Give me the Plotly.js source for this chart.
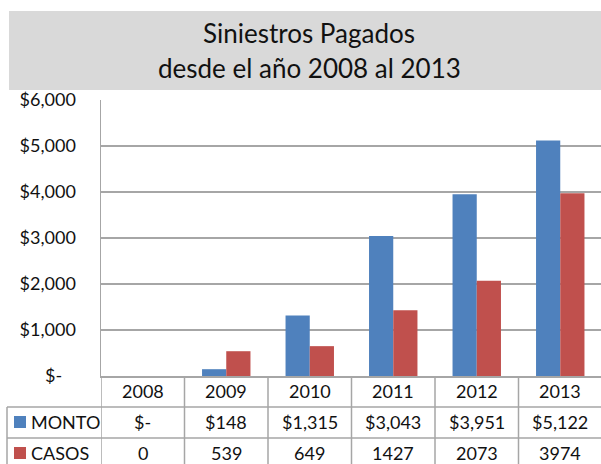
<!DOCTYPE html>
<html>
<head>
<meta charset="utf-8">
<script src="https://cdn.plot.ly/plotly-3.0.1.min.js"></script>
<style>
  html, body { margin: 0; padding: 0; overflow: hidden; background: #fff; }
  #chart { width: 610px; height: 464px; }
</style>
</head>
<body>
<div id="chart"></div>
<script>
// Siniestros pagados 2008-2013 (MONTO y CASOS)
const YEARS = ['2008', '2009', '2010', '2011', '2012', '2013'];
const MONTO = [0, 148, 1315, 3043, 3951, 5122];
const CASOS = [0, 539, 649, 1427, 2073, 3974];
const Y_TICKS = [0, 1000, 2000, 3000, 4000, 5000, 6000];
const Y_TICK_TEXT = ['$-\u00a0\u00a0\u00a0', '$1,000', '$2,000', '$3,000', '$4,000', '$5,000', '$6,000'];
const SERIES_NAMES = ['MONTO', 'CASOS'];
const SERIES_COLORS = ['#4f81bd', '#c0504d'];

const FONT = 'Lato, "Open Sans", sans-serif';
const TXT = '#111111';
const LINE = '#a6a6a6';

// plot box in pixels
const W = 610, H = 464;
const M = { l: 101, r: 8, t: 100, b: 88 };
const plotW = W - M.l - M.r;
const plotH = H - M.t - M.b;
// pixel -> paper helpers
const px = p => (p - M.l) / plotW;
const py = p => (H - M.b - p) / plotH;

function fmtMoney(v) {
  return v === 0 ? '$-' : '$' + v.toLocaleString('en-US');
}

const traces = [
  {
    x: YEARS, y: MONTO, type: 'bar', name: SERIES_NAMES[0],
    marker: { color: SERIES_COLORS[0] }, hoverinfo: 'none'
  },
  {
    x: YEARS, y: CASOS, type: 'bar', name: SERIES_NAMES[1],
    marker: { color: SERIES_COLORS[1] }, hoverinfo: 'none'
  }
];

const shapes = [];
const annotations = [];

// title box
shapes.push({
  type: 'rect', xref: 'paper', yref: 'paper',
  x0: px(9), x1: px(W + 5), y0: py(90), y1: py(11),
  fillcolor: '#d9d9d9', line: { width: 0 }, layer: 'below'
});
annotations.push({
  xref: 'paper', yref: 'paper', x: px(309), y: py(33.5), xanchor: 'center', yanchor: 'middle',
  text: 'Siniestros Pagados', showarrow: false, font: { family: FONT, size: 26, color: TXT }
});
annotations.push({
  xref: 'paper', yref: 'paper', x: px(309), y: py(68), xanchor: 'center', yanchor: 'middle',
  text: 'desde el año 2008 al 2013', showarrow: false, font: { family: FONT, size: 26, color: TXT }
});

// data table: grid lines
const rowLines = [407, 438];
rowLines.forEach(r => {
  shapes.push({
    type: 'line', xref: 'paper', yref: 'paper', x0: px(7), x1: 1, y0: py(r), y1: py(r),
    line: { color: LINE, width: 1.5 }
  });
});
shapes.push({
  type: 'line', xref: 'paper', yref: 'paper', x0: px(7), x1: px(7), y0: py(407), y1: py(H + 5),
  line: { color: LINE, width: 1.5 }
});
for (let i = 0; i <= YEARS.length; i++) {
  shapes.push({
    type: 'line', xref: 'x', yref: 'paper', x0: i - 0.5, x1: i - 0.5,
    y0: 0, y1: py(H + 5), line: { color: LINE, width: 1.5 }
  });
}

// data table: text
const rowCenters = [391, 422, 453];
YEARS.forEach((yr, i) => {
  annotations.push({
    xref: 'x', yref: 'paper', x: i, y: py(rowCenters[0]), yanchor: 'middle',
    text: yr, showarrow: false, font: { family: FONT, size: 18, color: TXT }
  });
  annotations.push({
    xref: 'x', yref: 'paper', x: i, y: py(rowCenters[1]), yanchor: 'middle',
    text: fmtMoney(MONTO[i]), showarrow: false, font: { family: FONT, size: 18, color: TXT }
  });
  annotations.push({
    xref: 'x', yref: 'paper', x: i, y: py(rowCenters[2]), yanchor: 'middle',
    text: String(CASOS[i]), showarrow: false, font: { family: FONT, size: 18, color: TXT }
  });
});

// legend keys inside the table
SERIES_NAMES.forEach((name, k) => {
  const c = rowCenters[k + 1];
  shapes.push({
    type: 'rect', xref: 'paper', yref: 'paper',
    x0: px(14), x1: px(26), y0: py(c + 6), y1: py(c - 6),
    fillcolor: SERIES_COLORS[k], line: { width: 0 }
  });
  annotations.push({
    xref: 'paper', yref: 'paper', x: px(29), y: py(c), xanchor: 'left', yanchor: 'middle',
    text: name, showarrow: false, font: { family: FONT, size: 18, color: TXT }
  });
});

const layout = {
  width: W,
  height: H,
  margin: M,
  paper_bgcolor: '#ffffff',
  plot_bgcolor: '#ffffff',
  showlegend: false,
  barmode: 'group',
  bargap: 0.42,
  bargroupgap: 0,
  font: { family: FONT, size: 18, color: TXT },
  xaxis: {
    type: 'category',
    showticklabels: false,
    ticks: '',
    showgrid: false,
    showline: true,
    linecolor: LINE,
    linewidth: 1.5,
    zeroline: false,
    range: [-0.5, YEARS.length - 0.5],
    fixedrange: true
  },
  yaxis: {
    range: [0, 6000],
    tickvals: Y_TICKS,
    ticktext: Y_TICK_TEXT,
    ticks: '',
    ticklabelstandoff: 20,
    showgrid: true,
    gridcolor: LINE,
    gridwidth: 1.5,
    showline: true,
    linecolor: LINE,
    linewidth: 1.5,
    zeroline: false,
    tickfont: { family: FONT, size: 18, color: TXT },
    fixedrange: true
  },
  shapes: shapes,
  annotations: annotations
};

Plotly.newPlot('chart', traces, layout, { displayModeBar: false, staticPlot: true });
</script>
</body>
</html>
